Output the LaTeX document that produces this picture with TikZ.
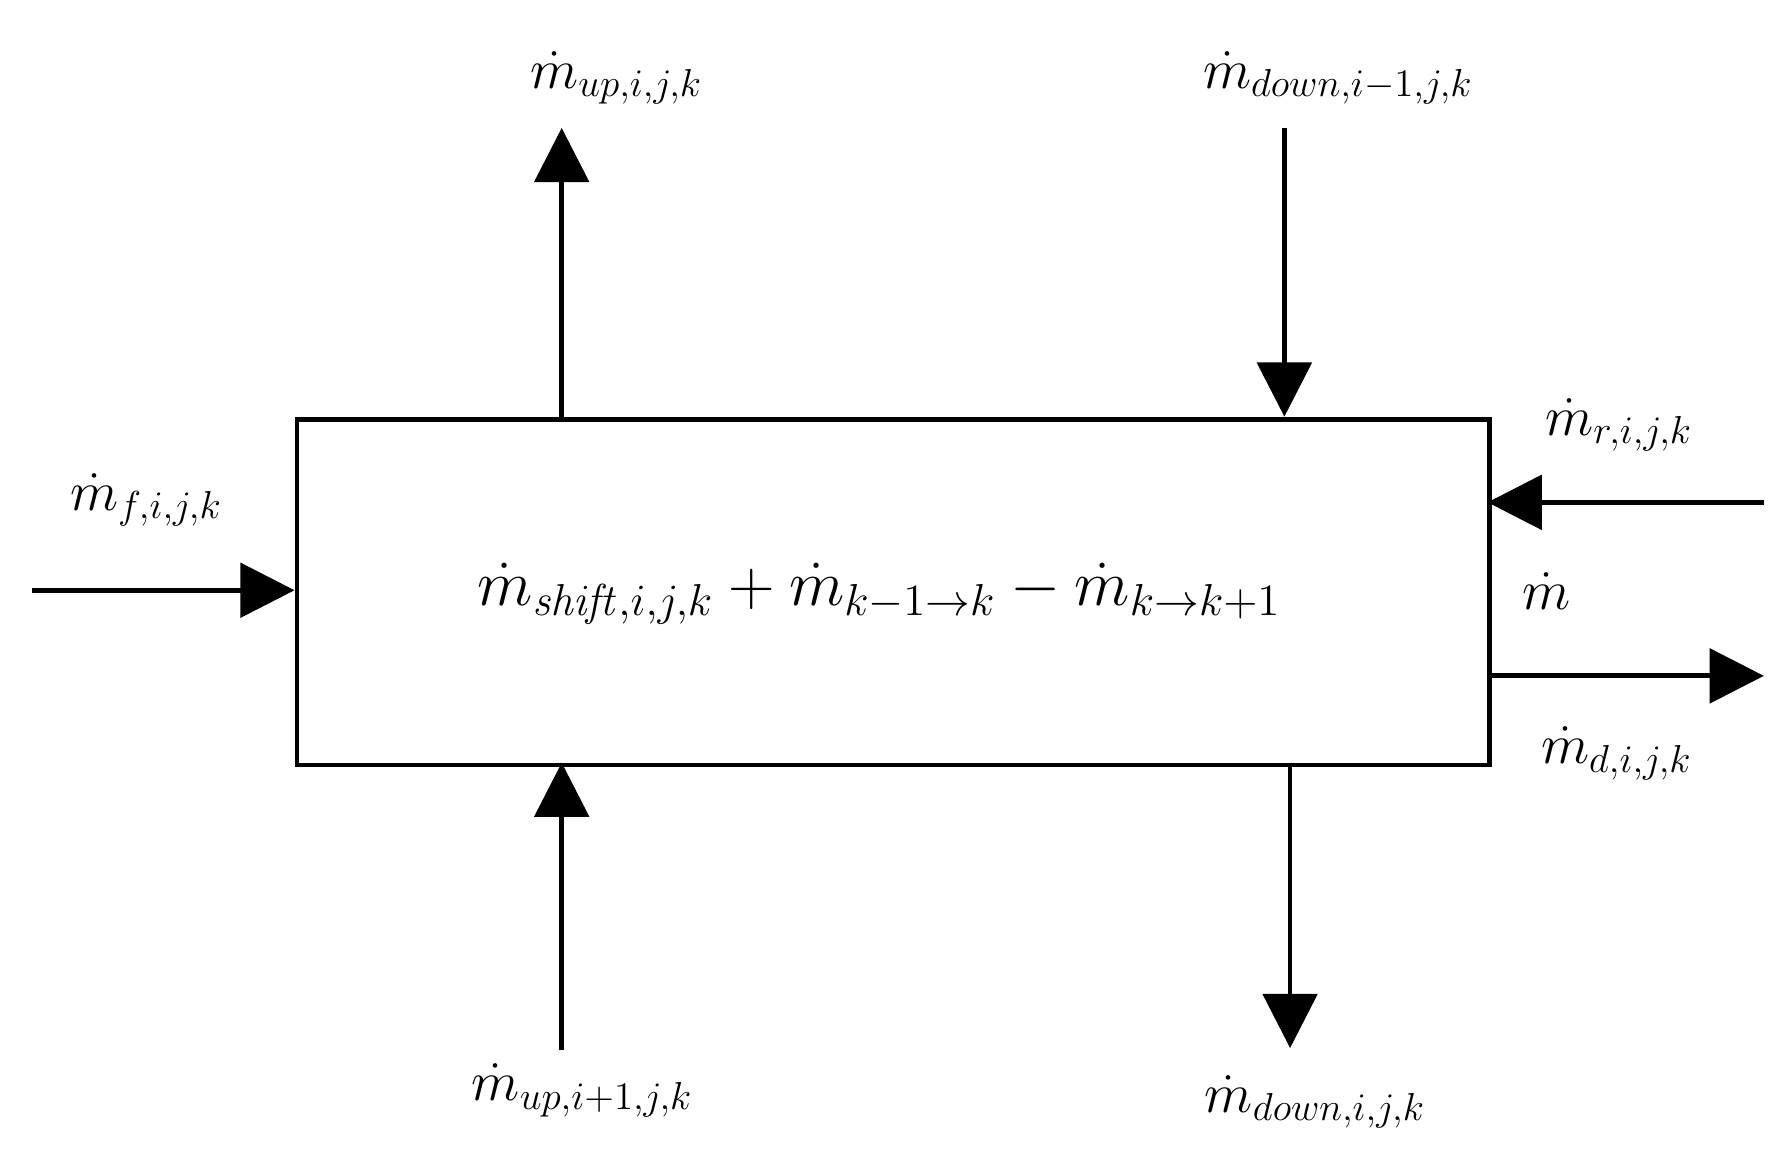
\documentclass[tikz,border=0pt]{standalone}
\usetikzlibrary{arrows.meta}
\newcommand{\lbl}[1]{\scalebox{1.35}{\fontsize{20.74}{25}\selectfont$#1$}}
\newcommand{\bg}[1]{\scalebox{1.55}{\fontsize{20.74}{25}\selectfont$#1$}}
\begin{document}
\begin{tikzpicture}[x=0.02cm,y=-0.02cm,
  flow/.style={line width=2.4pt,-{Triangle[width=0.95cm,length=0.95cm]}},
  lab/.style={inner sep=0pt}]
\useasboundingbox (0,0) rectangle (1560,1014);
\node[draw,line width=2.4pt,minimum width=20.9cm,minimum height=6.06cm,anchor=north west] (box) at (258,365) {};
\node[lab] (c) at (770,520) {\bg{\dot m_{\mathit{shift},i,j,k}+\dot m_{k-1\rightarrow k}-\dot m_{k\rightarrow k+1}}};
\coordinate (a1) at (492,365); \coordinate (a2) at (492,112);
\coordinate (b1) at (1125,112); \coordinate (b2) at (1125,365);
\coordinate (r1) at (1545,440); \coordinate (r2) at (1303,440);
\coordinate (f1) at (28,517); \coordinate (f2) at (258,517);
\coordinate (d1) at (1303,592); \coordinate (d2) at (1545,592);
\coordinate (u1) at (492,920); \coordinate (u2) at (492,668);
\coordinate (w1) at (1130,668); \coordinate (w2) at (1130,918);
\draw[flow] (a1) -- (a2);
\draw[flow] (b1) -- (b2);
\draw[flow] (r1) -- (r2);
\draw[flow] (f1) -- (f2);
\draw[flow] (d1) -- (d2);
\draw[flow] (u1) -- (u2);
\draw[flow] (w1) -- (w2);
\node[lab] (l1) at (540,68) {\lbl{\dot m_{up,i,j,k}}};
\node[lab] (l2) at (1172,68) {\lbl{\dot m_{down,i-1,j,k}}};
\node[lab] (l3) at (1418,372) {\lbl{\dot m_{r,i,j,k}}};
\node[lab] (l4) at (128,438) {\lbl{\dot m_{f,i,j,k}}};
\node[lab] (l5) at (1355,518) {\lbl{\dot m}};
\node[lab] (l6) at (1416,660) {\lbl{\dot m_{d,i,j,k}}};
\node[lab] (l7) at (510,955) {\lbl{\dot m_{up,i+1,j,k}}};
\node[lab] (l8) at (1152,965) {\lbl{\dot m_{down,i,j,k}}};
\end{tikzpicture}
\end{document}
